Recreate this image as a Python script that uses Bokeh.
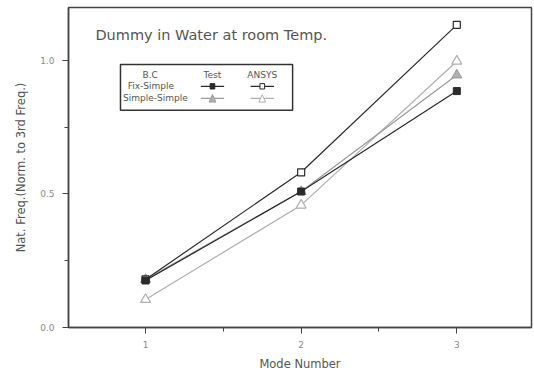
from bokeh.plotting import figure
from bokeh.models import (FixedTicker, PrintfTickFormatter, Label, BoxAnnotation,
                          PolyAnnotation, Range1d)
from bokeh.embed import file_html
from bokeh.resources import INLINE

modes = [1, 2, 3]
fix_test = [0.176, 0.509, 0.885]
fix_ansys = [0.180, 0.581, 1.133]
simple_test = [0.180, 0.509, 0.945]
simple_ansys = [0.105, 0.458, 0.997]

title_text = "Dummy in Water at room Temp."
x_label = "Mode Number"
y_label = "Nat. Freq.(Norm. to 3rd Freq.)"
legend_header = ["B.C", "Test", "ANSYS"]
legend_rows = ["Fix-Simple", "Simple-Simple"]

DARK = "#2a2a2a"
GRAY = "#9a9a9a"
LIGHT = "#b0b0b0"
FONT = "DejaVu Sans"

p = figure(width=534, height=373, output_backend="svg", toolbar_location=None,
           x_range=Range1d(0.505, 3.48), y_range=Range1d(0.0, 1.198),
           min_border_left=68, min_border_right=3, min_border_top=7,
           min_border_bottom=46)
p.background_fill_color = "white"
p.border_fill_color = "white"
p.outline_line_color = "#444444"
p.outline_line_width = 1.5
p.xgrid.visible = False
p.ygrid.visible = False

for ax in (p.xaxis[0], p.yaxis[0]):
    ax.axis_line_color = "#444444"
    ax.axis_line_width = 1.5
    ax.major_tick_line_color = "#444444"
    ax.minor_tick_line_color = "#444444"
    ax.major_tick_in = 0
    ax.major_tick_out = 6
    ax.minor_tick_in = 0
    ax.minor_tick_out = 4
    ax.major_label_text_color = "#8a8a8a"
    ax.major_label_text_font = FONT
    ax.major_label_text_font_size = "9px"
    ax.axis_label_text_color = "#555555"
    ax.axis_label_text_font = FONT
    ax.axis_label_text_font_size = "11.5px"
    ax.axis_label_text_font_style = "normal"

p.xaxis.ticker = FixedTicker(ticks=[1, 2, 3], minor_ticks=[1.5, 2.5])
p.xaxis.formatter = PrintfTickFormatter(format="%d")
p.yaxis.ticker = FixedTicker(ticks=[0.0, 0.5, 1.0], minor_ticks=[0.25, 0.75])
p.yaxis.formatter = PrintfTickFormatter(format="%.1f")
p.xaxis.axis_label = x_label
p.yaxis.axis_label = y_label
p.xaxis.major_label_standoff = 7
p.xaxis.axis_label_standoff = 6
p.yaxis.major_label_standoff = 8
p.yaxis.axis_label_standoff = 9

# series (gray first, black on top)
p.line(modes, simple_ansys, line_color=LIGHT, line_width=1.2)
p.scatter(modes, simple_ansys, marker="triangle", size=10, fill_color="white",
          line_color=LIGHT, line_width=1.2)
p.line(modes, simple_test, line_color=GRAY, line_width=1.2)
p.scatter(modes, simple_test, marker="triangle", size=10, fill_color=LIGHT,
          line_color=GRAY, line_width=1)
p.line(modes, fix_ansys, line_color=DARK, line_width=1.2)
p.scatter(modes, fix_ansys, marker="square", size=7, fill_color="white",
          line_color=DARK, line_width=1.2)
p.line(modes, fix_test, line_color=DARK, line_width=1.2)
p.scatter(modes, fix_test, marker="square", size=7, fill_color=DARK,
          line_color=DARK)

# in-plot title
p.add_layout(Label(x=0.678, y=1.094, text=title_text, text_font=FONT,
                   text_font_size="14.5px", text_color="#555555",
                   text_baseline="middle", text_align="left"))

# legend box
p.add_layout(BoxAnnotation(left=0.839, right=1.945, bottom=0.813, top=0.985,
                           fill_color="white", fill_alpha=1,
                           line_color="#333333", line_alpha=1, line_width=1.5))
hy, r1, r2 = 0.947, 0.903, 0.858
xt, xa = 1.43, 1.75
for txt, xx in zip(legend_header, [1.03, xt, xa]):
    p.add_layout(Label(x=xx, y=hy, text=txt, text_font=FONT, text_font_size="9px",
                       text_color="#555555", text_align="center",
                       text_baseline="middle"))
for txt, yy, xx in zip(legend_rows, [r1, r2], [0.885, 0.855]):
    p.add_layout(Label(x=xx, y=yy, text=txt, text_font=FONT, text_font_size="9px",
                       text_color="#555555", text_align="left",
                       text_baseline="middle"))

def seg(xc, yc, color):
    p.add_layout(PolyAnnotation(xs=[xc - 0.075, xc + 0.075], ys=[yc, yc],
                                fill_alpha=0, line_color=color, line_alpha=1,
                                line_width=1.2))

seg(xt, r1, DARK)
seg(xa, r1, DARK)
seg(xt, r2, GRAY)
seg(xa, r2, LIGHT)
dx, dy = 0.015, 0.010
p.add_layout(BoxAnnotation(left=xt - dx, right=xt + dx, bottom=r1 - dy, top=r1 + dy,
                           fill_color=DARK, fill_alpha=1, line_color=DARK,
                           line_alpha=1))
p.add_layout(BoxAnnotation(left=xa - dx, right=xa + dx, bottom=r1 - dy, top=r1 + dy,
                           fill_color="white", fill_alpha=1, line_color=DARK,
                           line_alpha=1, line_width=1))
tx, ty = 0.022, 0.014
p.add_layout(PolyAnnotation(xs=[xt - tx, xt + tx, xt], ys=[r2 - ty, r2 - ty, r2 + ty],
                            fill_color=LIGHT, fill_alpha=1, line_color=GRAY,
                            line_alpha=1))
p.add_layout(PolyAnnotation(xs=[xa - tx, xa + tx, xa], ys=[r2 - ty, r2 - ty, r2 + ty],
                            fill_color="white", fill_alpha=1, line_color=LIGHT,
                            line_alpha=1))

open("out.html", "w").write(file_html(p, INLINE))
